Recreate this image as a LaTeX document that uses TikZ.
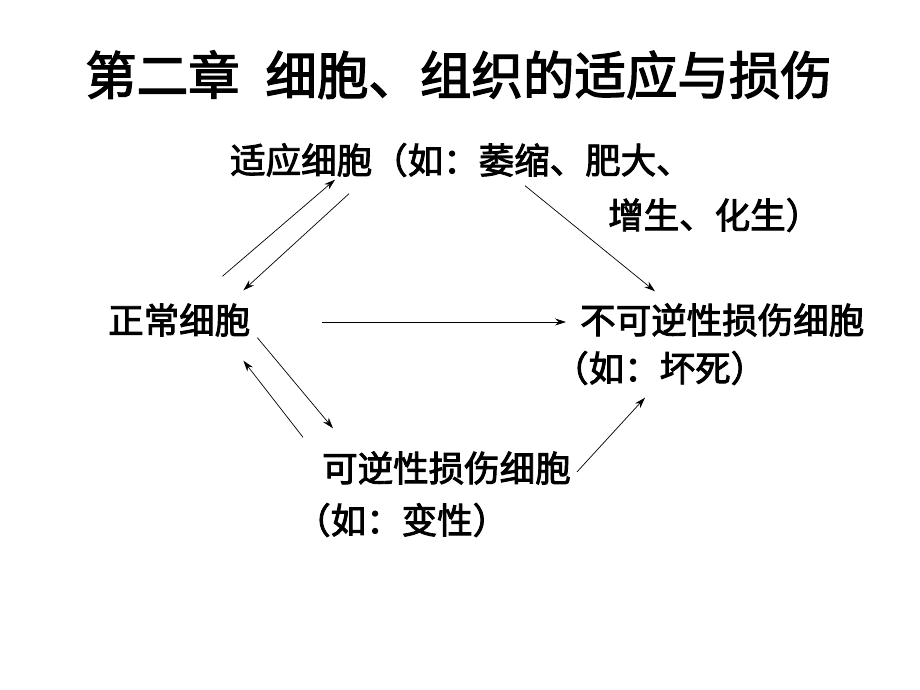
\documentclass[tikz,border=0pt]{standalone}
\usepackage{fontspec}
\setmainfont{Noto Sans CJK SC}[FakeBold=2.5]
\usetikzlibrary{arrows.meta,calc}

\begin{document}
\begin{tikzpicture}[x=1pt, y=-1pt,
		cell/.style={inner sep=0pt, anchor=west, font=\fontsize{35.5}{40}\selectfont, text height=30pt, text depth=3pt},
		arr/.style={line width=0.7pt, -{Stealth[length=11pt, width=7pt]}}]
				\useasboundingbox (0,0) rectangle (920,690);

				% Title
				\node[cell, font=\fontsize{51.5}{56}\selectfont, text height=43pt, text depth=4pt] (title) at (85,75) {第二章\hspace{0.5em}细胞、组织的适应与损伤};

				% Cells
				\node[cell] (adapt) at (230,160) {适应细胞（如：萎缩、肥大、};
				\node[cell] (adaptb) at (608,215) {增生、化生）};
				\node[cell] (normal) at (108,320) {正常细胞};
				\node[cell] (irrev) at (580,320) {不可逆性损伤细胞};
				\node[cell] (irrevb) at (553,368) {（如：坏死）};
				\node[cell] (rev) at (322,468) {可逆性损伤细胞};
				\node[cell] (revb) at (295,520) {（如：变性）};

				% Normal <-> adapted
				\draw[arr] ([shift={(-28,-27)}]normal.north east) -- ([shift={(105,3)}]adapt.south west);
				\draw[arr] ([shift={(119,17)}]adapt.south west) -- ([shift={(-7,-13)}]normal.north east);

				% Normal <-> reversible
				\draw[arr] ([shift={(7,1)}]normal.south east) -- ([shift={(11,-23)}]rev.north west);
				\draw[arr] ([shift={(-19,-14)}]rev.north west) -- ([shift={(-7,24)}]normal.south east);

				% To irreversible
				\draw[arr] ([shift={(72,2)}]normal.east) -- ([shift={(-14,2)}]irrev.west);
				\draw[arr] ([shift={(295,9)}]adapt.south west) -- ([shift={(75,-12)}]irrev.north west);
				\draw[arr] ([shift={(6,4)}]rev.east) -- ([shift={(92,13)}]irrevb.south west);
			\end{tikzpicture}
\end{document}
